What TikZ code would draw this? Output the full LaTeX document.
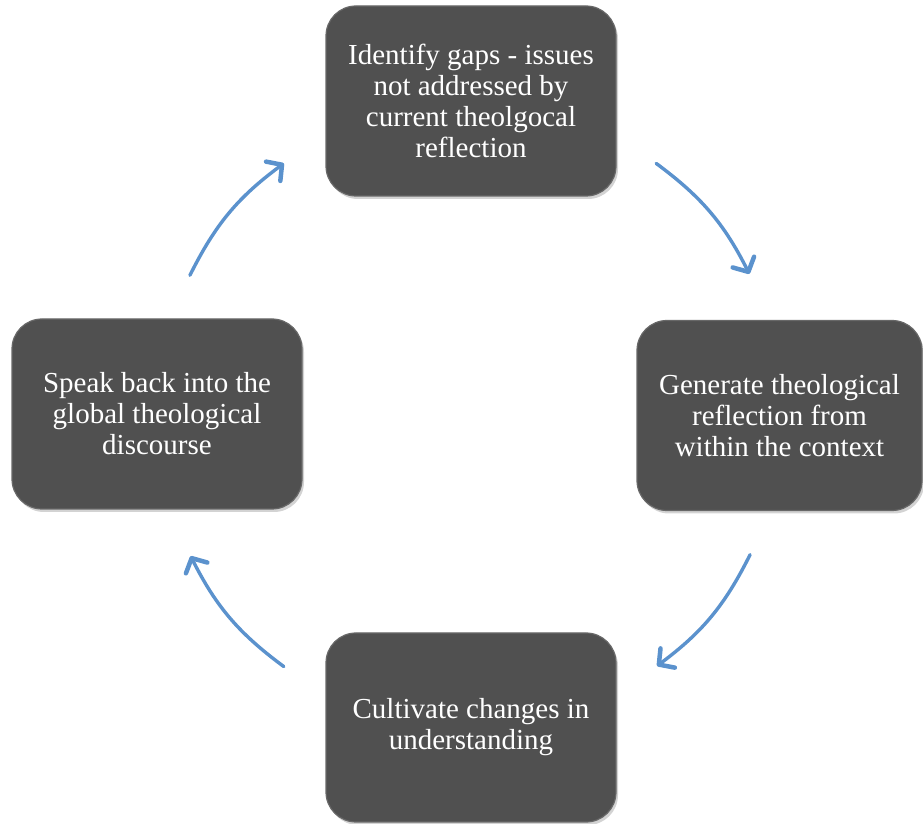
\documentclass[tikz,border=0pt]{standalone}
\usepackage{fontspec}
\setmainfont{Liberation Serif}
\usetikzlibrary{arrows.meta, shadows, calc}
\definecolor{boxgray}{RGB}{80,80,80}
\definecolor{boxrim}{RGB}{104,104,104}
\definecolor{flowblue}{RGB}{91,146,205}

\begin{document}
\begin{tikzpicture}[x=1pt, y=1pt,
        stage/.style={draw=boxrim, line width=1.2pt, fill=boxgray, rounded corners=30pt,
            minimum width=290pt, minimum height=190pt, inner sep=0pt, align=center,
            text=white, font=\fontsize{29}{31}\selectfont,
            drop shadow={opacity=0.35, shadow xshift=2pt, shadow yshift=-3pt}},
        flow/.style={draw=flowblue, line width=3.4pt, line cap=round,
            -{Straight Barb[length=11pt, width=24pt, line width=4.5pt, round]}}]
        \useasboundingbox (0,0) rectangle (923,824);

        \node[stage] (gap) at (471,723) {Identify gaps - issues\\not addressed by\\current theolgocal\\reflection};
        \node[stage, minimum width=285pt] (gen) at (779.5,408.5) {Generate theological\\reflection from\\within the context};
        \node[stage, minimum height=189pt] (cult) at (471,96.5) {Cultivate changes in\\understanding};
        \node[stage] (speak) at (157,410) {Speak back into the\\global theological\\discourse};

        % arrow ends sit on one circle round the middle
        \coordinate (o) at (470,409);
        \coordinate (gap-out) at ($(o)+(53.5:313)$);
        \coordinate (gen-in) at ($(o)+(26.8:313)$);
        \coordinate (gen-out) at ($(o)+(-26.5:313)$);
        \coordinate (cult-in) at ($(o)+(-53.3:313)$);
        \coordinate (cult-out) at ($(o)+(-126.5:313)$);
        \coordinate (speak-in) at ($(o)+(-153.2:313)$);
        \coordinate (speak-out) at ($(o)+(153.5:313)$);
        \coordinate (gap-in) at ($(o)+(126.5:313)$);

        \draw[flow] (gap-out) to[out=-36.5, in=116.8] (gen-in);
        \draw[flow] (gen-out) to[out=-116.5, in=36.7] (cult-in);
        \draw[flow] (cult-out) to[out=143.5, in=-63.2] (speak-in);
        \draw[flow] (speak-out) to[out=63.5, in=-143.5] (gap-in);
    \end{tikzpicture}
\end{document}
